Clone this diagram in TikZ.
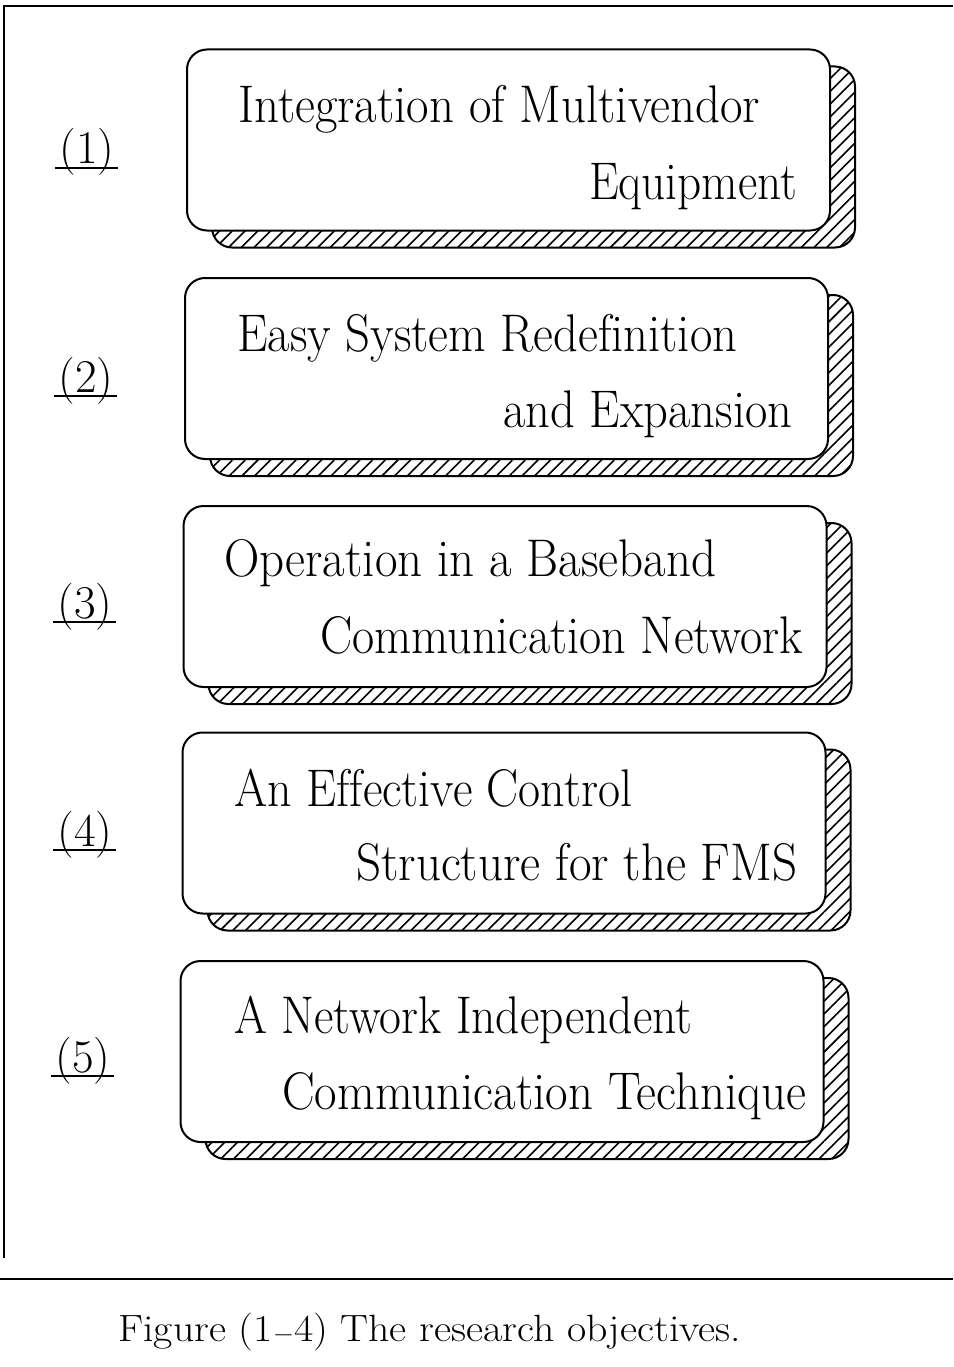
\documentclass[tikz,border=0pt]{standalone}
\usepackage{graphicx}
\usetikzlibrary{patterns.meta}
\tikzset{
  x=1pt, y=-1pt,
  objbox/.style={draw, line width=2pt, rounded corners=20pt, fill=white,
    minimum width=643pt, minimum height=181pt, inner sep=0pt},
  shadowbox/.style={draw, line width=2pt, rounded corners=20pt,
    pattern={Lines[angle=45,distance=9pt,line width=1.6pt]},
    minimum width=643pt, minimum height=181pt, inner sep=0pt},
  objtext/.style={anchor=base west, inner sep=0pt, font=\fontsize{53}{60}\selectfont},
  numlabel/.style={anchor=base, inner sep=0pt, font=\fontsize{47}{54}\selectfont},
  ulline/.style={line width=2pt},
  frameline/.style={line width=2.4pt},
}
\newcommand{\fitw}[2]{\resizebox{#1pt}{\height}{#2}}
\begin{document}
\begin{tikzpicture}
\useasboundingbox (0,0) rectangle (953,1367);
% frame
\draw[frameline] (4,1258) -- (4,6) -- (953,6);
\draw[frameline] (0,1279) -- (953,1279);

% shadows
\node[shadowbox] (s1) at (533.5,157) {};
\node[shadowbox] (s2) at (531.5,385.5) {};
\node[shadowbox] (s3) at (530,613.5) {};
\node[shadowbox] (s4) at (529,840) {};
\node[shadowbox] (s5) at (527,1068.5) {};
% boxes
\node[objbox] (b1) at (508.5,140) {};
\node[objbox] (b2) at (506.5,368.5) {};
\node[objbox] (b3) at (505,596.5) {};
\node[objbox] (b4) at (504,823) {};
\node[objbox] (b5) at (502,1051.5) {};

% texts
\node[objtext] (t1a) at (238,123) {\fitw{522}{Integration of Multivendor}};
\node[objtext] (t1b) at (589,199) {\fitw{208}{Equipment}};
\node[objtext] (t2a) at (237,351) {\fitw{500}{Easy System Rede\mbox{f}inition}};
\node[objtext] (t2b) at (503,427) {\fitw{289}{and Expansion}};
\node[objtext] (t3a) at (224,576) {\fitw{492}{Operation in a Baseband}};
\node[objtext] (t3b) at (320,653) {\fitw{483}{Communication Network}};
\node[objtext] (t4a) at (234,806) {\fitw{398}{An E\mbox{f}\mbox{f}ective Control}};
\node[objtext] (t4b) at (356,880) {\fitw{441}{Structure for the FMS}};
\node[objtext] (t5a) at (234,1033) {\fitw{458}{A Network Independent}};
\node[objtext] (t5b) at (282,1109) {\fitw{524}{Communication Technique}};

% number labels
\node[numlabel] (n1) at (87,164) {(1)};
\node[numlabel] (n2) at (86,392) {(2)};
\node[numlabel] (n3) at (85,618) {(3)};
\node[numlabel] (n4) at (85,846) {(4)};
\node[numlabel] (n5) at (83,1072) {(5)};
\foreach \n in {n1,n2,n3,n4,n5}
  \draw[ulline] ([shift={(-4,4)}]\n.base west) -- ([shift={(3,4)}]\n.base east);

% caption
\node[anchor=base west, inner sep=0pt, font=\fontsize{38}{44}\selectfont] (cap) at (118,1341)
  {\fitw{623}{Figure (1$-$4) The research objectives.}};
\end{tikzpicture}
\end{document}
